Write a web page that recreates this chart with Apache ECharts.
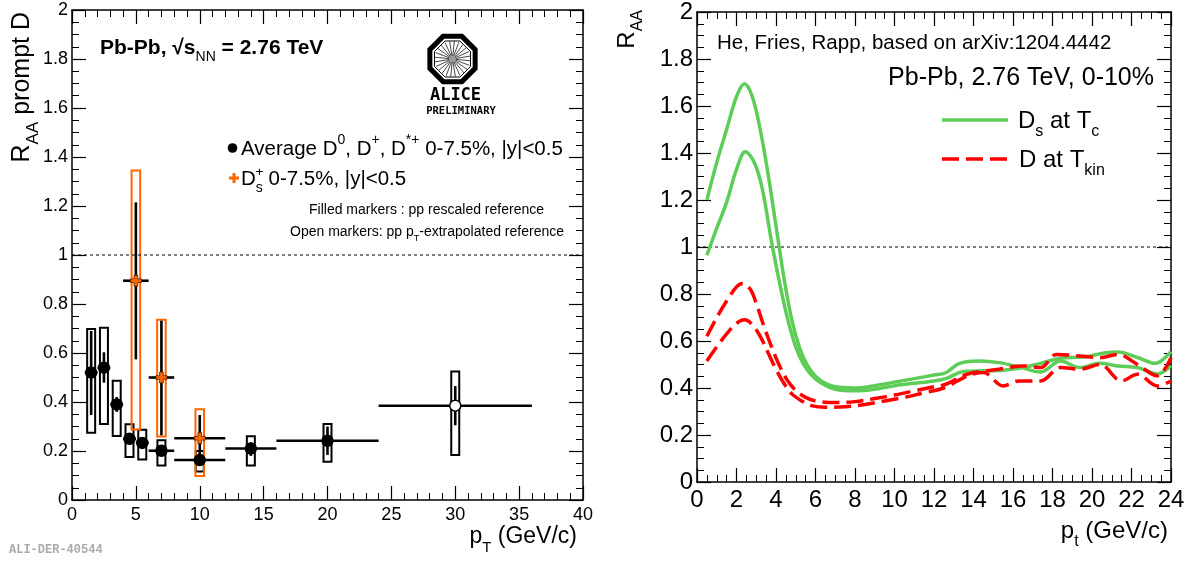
<!DOCTYPE html>
<html><head><meta charset="utf-8">
<script src="https://cdn.jsdelivr.net/npm/echarts@6/dist/echarts.min.js"></script>
<style>html,body{margin:0;padding:0;background:#fff}#c{width:1202px;height:563px}</style>
</head><body><div id="c"></div>
<script>
// ---------- Left panel: ALICE prompt D R_AA ----------
const avgX     = [1.5, 2.5, 3.5, 4.5, 5.5, 7, 10, 14, 20, 30];
const avgY     = [0.52, 0.54, 0.39, 0.25, 0.233, 0.201, 0.163, 0.21, 0.242, 0.385];
const avgXLo   = [1, 2, 3, 4, 5, 6, 8, 12, 16, 24];
const avgXHi   = [2, 3, 4, 5, 6, 8, 12, 16, 24, 36];
const avgStatLo= [0.347, 0.479, 0.36, 0.23, 0.215, 0.185, 0.14, 0.18, 0.184, 0.305];
const avgStatHi= [0.69, 0.603, 0.42, 0.27, 0.25, 0.22, 0.19, 0.235, 0.30, 0.465];
const avgSysLo = [0.275, 0.31, 0.261, 0.176, 0.165, 0.141, 0.116, 0.141, 0.156, 0.184];
const avgSysHi = [0.698, 0.703, 0.487, 0.309, 0.287, 0.244, 0.20, 0.26, 0.31, 0.525];
const avgOpen  = [false, false, false, false, false, false, false, false, false, true];

const dsX      = [5, 7, 10];
const dsY      = [0.895, 0.50, 0.252];
const dsXLo    = [4, 6, 8];
const dsXHi    = [6, 8, 12];
const dsStatLo = [0.574, 0.264, 0.16];
const dsStatHi = [1.215, 0.732, 0.347];
const dsSysLo  = [0.288, 0.259, 0.098];
const dsSysHi  = [1.345, 0.736, 0.37];

const leftUnityX = [0, 40];
const leftUnityY = [1, 1];

// ---------- Right panel: He, Fries, Rapp model ----------
const g1X = [0.5,1.0,1.5,2.0,2.4,2.8,3.2,3.6,4.0,4.4,4.8,5.2,5.6,6.0,6.5,7.0,8.0,9.0,10.0,11.0,12.0,12.6,13.3,14.3,15.3,16.3,17.4,18.4,19.4,20.4,21.3,22.3,23.3,24.0];
const g1Y = [1.20,1.36,1.50,1.64,1.695,1.64,1.50,1.31,1.09,0.87,0.69,0.57,0.495,0.45,0.42,0.405,0.40,0.41,0.425,0.44,0.455,0.465,0.505,0.515,0.508,0.49,0.468,0.515,0.487,0.505,0.494,0.487,0.46,0.495];
const g2X = [0.5,1.0,1.5,2.0,2.45,2.9,3.3,3.8,4.2,4.6,5.0,5.4,5.8,6.3,7.0,8.0,9.0,10.0,11.0,12.0,12.6,13.5,14.5,15.5,16.5,17.4,18.4,19.6,20.7,21.3,22.3,23.2,24.0];
const g2Y = [0.965,1.08,1.19,1.33,1.405,1.36,1.25,1.01,0.84,0.69,0.575,0.50,0.455,0.42,0.395,0.388,0.395,0.41,0.42,0.43,0.44,0.47,0.473,0.476,0.487,0.505,0.527,0.532,0.55,0.553,0.53,0.505,0.555];
const r1X = [0.5,1.0,1.5,2.0,2.3,2.7,3.0,3.4,3.8,4.2,4.6,5.0,5.5,6.0,7.0,8.0,9.0,10.0,11.0,12.0,12.6,13.7,15.3,16.5,17.4,18.2,19.4,20.4,21.3,22.3,23.3,24.0];
const r1Y = [0.62,0.70,0.77,0.83,0.845,0.82,0.76,0.66,0.57,0.49,0.43,0.39,0.36,0.345,0.338,0.342,0.355,0.37,0.388,0.405,0.416,0.459,0.48,0.494,0.487,0.543,0.536,0.529,0.543,0.50,0.452,0.529];
const r2X = [0.5,1.0,1.5,2.0,2.4,2.8,3.2,3.6,4.0,4.4,4.8,5.3,5.8,6.5,7.5,8.5,9.5,10.5,11.5,12.5,13.7,14.5,15.5,16.3,17.4,18.4,19.4,20.4,21.5,22.3,23.3,24.0];
const r2Y = [0.515,0.575,0.63,0.675,0.69,0.67,0.62,0.55,0.48,0.42,0.375,0.345,0.325,0.318,0.32,0.33,0.345,0.36,0.38,0.40,0.452,0.466,0.409,0.43,0.43,0.487,0.48,0.50,0.43,0.459,0.409,0.43];

const rightUnityX = [0, 24];
const rightUnityY = [1, 1];

// ---------- styling ----------
const FONT = 'Liberation Sans';
const ORANGE = '#ff6600';
const GREEN = '#5dcd58';
const RED = '#ff0000';

function richFor(size) {
  const s = Math.round(size * 0.66);
  return {
    sub: {fontSize: s, fontFamily: FONT, fill: '#000', verticalAlign: 'bottom', lineHeight: s + 1},
    sup: {fontSize: s, fontFamily: FONT, fill: '#000', verticalAlign: 'top', lineHeight: s + 1}
  };
}
function txt(x, y, text, size, extra) {
  extra = extra || {};
  const el = {type: 'text', x: x, y: y, z: 100, silent: true,
    style: Object.assign({text: text, fontSize: size, fontFamily: FONT, fill: '#000',
      align: 'left', verticalAlign: 'middle', lineHeight: Math.round(size * 1.55), rich: richFor(size)}, extra.style || {})};
  if (extra.rotation) el.rotation = extra.rotation;
  return el;
}

function xAx(grid, min, max, interval, minorSplit, pos, showLabel, fontSize, tickLen) {
  return {type: 'value', gridIndex: grid, min: min, max: max, interval: interval, position: pos,
    axisLine: {show: true, onZero: false, lineStyle: {color: '#000', width: 1.5}},
    axisTick: {show: true, inside: true, length: tickLen, lineStyle: {color: '#000', width: 1.2}},
    minorTick: {show: true, splitNumber: minorSplit, length: tickLen / 2, lineStyle: {color: '#000', width: 1}},
    axisLabel: {show: showLabel, fontSize: fontSize, color: '#000', fontFamily: FONT, margin: 6},
    splitLine: {show: false}, minorSplitLine: {show: false}};
}
function yAx(grid, min, max, interval, minorSplit, pos, showLabel, fontSize, tickLen) {
  const a = xAx(grid, min, max, interval, minorSplit, pos, showLabel, fontSize, tickLen);
  a.axisLabel.margin = 4;
  return a;
}

// ---------- custom renderers ----------
function boxRender(color, halfPx, lw) {
  return function (params, api) {
    const x = api.value(0), lo = api.value(1), hi = api.value(2);
    const pLo = api.coord([x, lo]), pHi = api.coord([x, hi]);
    return {type: 'rect', shape: {x: pLo[0] - halfPx, y: pHi[1], width: 2 * halfPx, height: pLo[1] - pHi[1]},
      style: {fill: 'none', stroke: color, lineWidth: lw}};
  };
}
function errRender(params, api) {
  const x = api.value(0), y = api.value(1);
  const a = api.coord([api.value(2), y]), b = api.coord([api.value(3), y]);
  const c = api.coord([x, api.value(4)]), d = api.coord([x, api.value(5)]);
  const st = {stroke: '#000', lineWidth: 2.6};
  return {type: 'group', children: [
    {type: 'line', shape: {x1: a[0], y1: a[1], x2: b[0], y2: b[1]}, style: st},
    {type: 'line', shape: {x1: c[0], y1: c[1], x2: d[0], y2: d[1]}, style: st}
  ]};
}

const avgSys = avgX.map((x, i) => [x, avgSysLo[i], avgSysHi[i]]);
const dsSys = dsX.map((x, i) => [x, dsSysLo[i], dsSysHi[i]]);
const avgErr = avgX.map((x, i) => [x, avgY[i], avgXLo[i], avgXHi[i], avgStatLo[i], avgStatHi[i]]);
const dsErr = dsX.map((x, i) => [x, dsY[i], dsXLo[i], dsXHi[i], dsStatLo[i], dsStatHi[i]]);
const avgPts = avgX.map((x, i) => ({value: [x, avgY[i]],
  itemStyle: {color: avgOpen[i] ? '#fff' : '#000', borderColor: '#000', borderWidth: 1.5, opacity: 1}}));
const dsPts = dsX.map((x, i) => [x, dsY[i]]);
const pairs = (xs, ys) => xs.map((x, i) => [x, ys[i]]);

const CROSS = 'path://M-1,-3L1,-3L1,-1L3,-1L3,1L1,1L1,3L-1,3L-1,1L-3,1L-3,-1L-1,-1Z';

// ---------- ALICE logo (decoration) ----------
const logo = [];
(function () {
  const cx = 452.5, cy = 59;
  const oct = r => Array.from({length: 8}, (_, k) => {
    const a = Math.PI / 8 + k * Math.PI / 4; return [cx + r * Math.cos(a), cy + r * Math.sin(a)];
  });
  logo.push({type: 'polygon', shape: {points: oct(24.5)}, style: {fill: '#fff', stroke: '#000', lineWidth: 5}, z: 90, silent: true});
  logo.push({type: 'polygon', shape: {points: oct(19.5)}, style: {fill: 'none', stroke: '#000', lineWidth: 1}, z: 91, silent: true});
  for (let k = 0; k < 24; k++) {
    const a = k * Math.PI / 12 + 0.1;
    logo.push({type: 'line', shape: {x1: cx + 3 * Math.cos(a), y1: cy + 3 * Math.sin(a), x2: cx + 18 * Math.cos(a), y2: cy + 18 * Math.sin(a)},
      style: {stroke: '#333', lineWidth: 0.9}, z: 92, silent: true});
  }
  logo.push({type: 'circle', shape: {cx: cx, cy: cy, r: 3}, style: {fill: '#999'}, z: 93, silent: true});
})();

const graphics = logo.concat([
  txt(455.5, 96, 'ALICE', 17, {style: {fontFamily: 'DejaVu Sans Mono', fontWeight: 'bold', align: 'center'}}),
  txt(461, 111, 'PRELIMINARY', 10.5, {style: {fontFamily: 'DejaVu Sans Mono', fontWeight: 'bold', align: 'center'}}),
  txt(100, 48, 'Pb-Pb, √s{sub|NN} = 2.76 TeV', 21, {style: {fontWeight: 'bold'}}),
  {type: 'circle', shape: {cx: 232.5, cy: 148, r: 4.8}, style: {fill: '#000'}, z: 100, silent: true},
  txt(241, 149, 'Average D{sup|0}, D{sup|+}, D{sup|*+} 0-7.5%, |y|<0.5', 20.5),
  {type: 'polygon', shape: {points: [[232.5,173],[235.5,173],[235.5,176.5],[239,176.5],[239,179.5],[235.5,179.5],[235.5,183],[232.5,183],[232.5,179.5],[229,179.5],[229,176.5],[232.5,176.5]]},
   style: {fill: ORANGE}, z: 100, silent: true},
  txt(241, 179, 'D{sub|s} 0-7.5%, |y|<0.5', 20.5),
  txt(255.5, 172, '+', 13.5),
  txt(544, 210, 'Filled markers : pp rescaled reference', 14, {style: {align: 'right'}}),
  txt(564, 232, 'Open markers: pp p{sub|T}-extrapolated reference', 14, {style: {align: 'right'}}),
  txt(22, 12, 'R{sub|AA} prompt D', 25, {rotation: Math.PI / 2, style: {align: 'right'}}),
  txt(577, 537, 'p{sub|T} (GeV/c)', 23, {style: {align: 'right'}}),
  txt(9, 550, 'ALI-DER-40544', 12, {style: {fontFamily: 'Liberation Mono', fontWeight: 'bold', fill: '#aaaaaa'}}),
  // right panel
  txt(627, 10, 'R{sub|AA}', 24, {rotation: Math.PI / 2, style: {align: 'right'}}),
  txt(1168, 531, 'p{sub|t} (GeV/c)', 24, {style: {align: 'right'}}),
  txt(717, 43, 'He, Fries, Rapp, based on arXiv:1204.4442', 20.5),
  txt(1154, 78, 'Pb-Pb, 2.76 TeV, 0-10%', 25, {style: {align: 'right'}}),
  {type: 'line', shape: {x1: 942, y1: 120, x2: 1008, y2: 120}, style: {stroke: GREEN, lineWidth: 3.5}, z: 100, silent: true},
  {type: 'line', shape: {x1: 942, y1: 159, x2: 1008, y2: 159}, style: {stroke: RED, lineWidth: 3.5, lineDash: [17, 7]}, z: 100, silent: true},
  txt(1018, 121, 'D{sub|s} at T{sub|c}', 24),
  txt(1019, 160, 'D at T{sub|kin}', 24)
]);

const chart = echarts.init(document.getElementById('c'));
chart.setOption({
  animation: false,
  backgroundColor: '#fff',
  grid: [
    {left: 72, top: 10, width: 511, height: 490},
    {left: 697, top: 8, width: 474, height: 474}
  ],
  xAxis: [
    xAx(0, 0, 40, 5, 5, 'bottom', true, 18, 14),
    xAx(0, 0, 40, 5, 5, 'top', false, 18, 14),
    xAx(1, 0, 24, 2, 4, 'bottom', true, 24, 14),
    xAx(1, 0, 24, 2, 4, 'top', false, 24, 14)
  ],
  yAxis: [
    yAx(0, 0, 2, 0.2, 4, 'left', true, 18, 14),
    yAx(0, 0, 2, 0.2, 4, 'right', false, 18, 14),
    yAx(1, 0, 2, 0.2, 4, 'left', true, 24, 14),
    yAx(1, 0, 2, 0.2, 4, 'right', false, 24, 14)
  ],
  series: [
    {type: 'line', xAxisIndex: 0, yAxisIndex: 0, data: pairs(leftUnityX, leftUnityY), symbol: 'none', silent: true,
     lineStyle: {color: '#000', width: 1, type: [3, 3]}},
    {type: 'custom', xAxisIndex: 0, yAxisIndex: 0, data: avgSys, renderItem: boxRender('#000', 4, 2), silent: true},
    {type: 'custom', xAxisIndex: 0, yAxisIndex: 0, data: dsSys, renderItem: boxRender(ORANGE, 4.3, 2), silent: true},
    {type: 'custom', xAxisIndex: 0, yAxisIndex: 0, data: avgErr, renderItem: errRender, silent: true},
    {type: 'custom', xAxisIndex: 0, yAxisIndex: 0, data: dsErr, renderItem: errRender, silent: true},
    {type: 'scatter', xAxisIndex: 0, yAxisIndex: 0, data: avgPts, symbol: 'circle', symbolSize: 11, silent: true,
     itemStyle: {opacity: 1}},
    {type: 'scatter', xAxisIndex: 0, yAxisIndex: 0, data: dsPts, symbol: CROSS, symbolSize: 11, silent: true,
     itemStyle: {color: ORANGE, borderColor: '#4a2000', borderWidth: 0.8, opacity: 1}},
    {type: 'line', xAxisIndex: 2, yAxisIndex: 2, data: pairs(rightUnityX, rightUnityY), symbol: 'none', silent: true,
     lineStyle: {color: '#000', width: 1, type: [3, 3]}},
    {type: 'line', xAxisIndex: 2, yAxisIndex: 2, data: pairs(g1X, g1Y), symbol: 'none', smooth: 0.35, silent: true,
     lineStyle: {color: GREEN, width: 3.5}},
    {type: 'line', xAxisIndex: 2, yAxisIndex: 2, data: pairs(g2X, g2Y), symbol: 'none', smooth: 0.35, silent: true,
     lineStyle: {color: GREEN, width: 3.5}},
    {type: 'line', xAxisIndex: 2, yAxisIndex: 2, data: pairs(r1X, r1Y), symbol: 'none', smooth: 0.35, silent: true,
     lineStyle: {color: RED, width: 3.5, type: [17, 7]}},
    {type: 'line', xAxisIndex: 2, yAxisIndex: 2, data: pairs(r2X, r2Y), symbol: 'none', smooth: 0.35, silent: true,
     lineStyle: {color: RED, width: 3.5, type: [17, 7]}}
  ],
  graphic: graphics
});
</script>
</body></html>
